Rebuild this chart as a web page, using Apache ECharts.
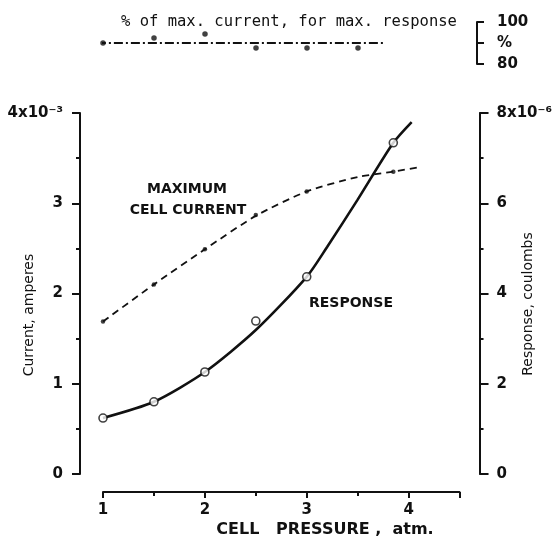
<!DOCTYPE html>
<html>
<head>
<meta charset="utf-8">
<script src="https://cdn.jsdelivr.net/npm/echarts@6/dist/echarts.min.js"></script>
<style>
  html, body { margin: 0; padding: 0; background: #fff; }
  #chart { width: 555px; height: 545px; }
</style>
</head>
<body>
<div id="chart"></div>
<script>
// Measured points vs. cell pressure (atm)
const pressure = [1, 1.5, 2, 2.5, 3, 3.85];
const maxCellCurrent = [1.69, 2.10, 2.49, 2.87, 3.13, 3.35];   // x10^-3 A
const response = [1.24, 1.60, 2.26, 3.39, 4.37, 7.34];         // x10^-6 C

// Hand-drawn smooth curves through the measurements
const currentCurveX = [1, 1.5, 2, 2.5, 3, 3.5, 3.85, 4.1];
const currentCurveY = [1.69, 2.10, 2.49, 2.86, 3.13, 3.29, 3.35, 3.40];
const responseCurveX = [1, 1.5, 2, 2.5, 3, 3.2, 3.5, 3.85, 4.03];
const responseCurveY = [1.24, 1.60, 2.26, 3.19, 4.37, 5.03, 6.08, 7.34, 7.80];

// Upper strip: % of max. current giving max. response
const pctPressure = [1, 1.5, 2, 2.5, 3, 3.5];
const pctOfMax = [90, 92.4, 94.3, 87.6, 87.6, 87.6];
const pctRefX = [0.94, 3.76];
const pctRefY = [90, 90];

// Axis tick labels
const xTicks = [1, 2, 3, 4];
const leftTopLabel = '4x10\u207B\u00B3';
const rightTopLabel = '8x10\u207B\u2076';
const pctLabels = { 80: '80', 90: '%', 100: '100' };

const zip = (a, b) => a.map((v, i) => [v, b[i]]);
const ink = '#111';
const tickFont = { fontFamily: 'DejaVu Sans', fontWeight: 'bold', fontSize: 15, color: ink };
const capsFont = { fontFamily: 'DejaVu Sans', fontWeight: 'bold', fontSize: 14, fill: ink };
const line2 = { color: ink, width: 2 };

const chart = echarts.init(document.getElementById('chart'), null, { renderer: 'canvas' });

chart.setOption({
  backgroundColor: '#fff',
  animation: false,
  title: {
    text: '% of max. current, for max. response',
    left: 116, top: 9,
    textStyle: { fontFamily: 'DejaVu Sans Mono', fontWeight: 'normal', fontSize: 15.5, color: ink }
  },
  grid: [
    { left: 103, right: 95, top: 113, bottom: 71 },
    { left: 103, right: 95, top: 22, height: 42 }
  ],
  xAxis: [
    {
      gridIndex: 0, type: 'value', min: 1, max: 4.5, interval: 1, offset: 18,
      axisLine: { show: true, onZero: false, lineStyle: line2 },
      axisTick: { show: true, length: 6, lineStyle: line2 },
      minorTick: { show: true, splitNumber: 2, length: 4, lineStyle: line2 },
      splitLine: { show: false }, minorSplitLine: { show: false },
      axisLabel: Object.assign({}, tickFont, {
        margin: 11,
        formatter: v => (xTicks.indexOf(v) >= 0 ? String(v) : '')
      })
    },
    { gridIndex: 1, type: 'value', min: 1, max: 4.5, show: false }
  ],
  yAxis: [
    {
      gridIndex: 0, type: 'value', position: 'left', min: 0, max: 4, interval: 1, offset: 23,
      axisLine: { show: true, onZero: false, lineStyle: line2 },
      axisTick: { show: true, length: 8, lineStyle: line2 },
      minorTick: { show: true, splitNumber: 2, length: 4, lineStyle: line2 },
      splitLine: { show: false }, minorSplitLine: { show: false },
      axisLabel: Object.assign({}, tickFont, {
        margin: 17,
        formatter: v => (v === 4 ? leftTopLabel : String(v))
      })
    },
    {
      gridIndex: 0, type: 'value', position: 'right', min: 0, max: 8, interval: 2, offset: 20,
      axisLine: { show: true, onZero: false, lineStyle: line2 },
      axisTick: { show: true, length: 9, lineStyle: line2 },
      minorTick: { show: true, splitNumber: 2, length: 4, lineStyle: line2 },
      splitLine: { show: false }, minorSplitLine: { show: false },
      axisLabel: Object.assign({}, tickFont, {
        margin: 17,
        formatter: v => (v === 8 ? rightTopLabel : String(v))
      })
    },
    {
      gridIndex: 1, type: 'value', position: 'right', min: 80, max: 100, interval: 10, offset: 17,
      axisLine: { show: true, onZero: false, lineStyle: line2 },
      axisTick: { show: true, length: 7, lineStyle: line2 },
      splitLine: { show: false },
      axisLabel: Object.assign({}, tickFont, {
        margin: 20,
        formatter: v => pctLabels[v] || ''
      })
    }
  ],
  series: [
    {
      name: 'Maximum cell current (curve)', type: 'line',
      xAxisIndex: 0, yAxisIndex: 0,
      data: zip(currentCurveX, currentCurveY),
      smooth: 0.25, showSymbol: false,
      lineStyle: { color: ink, width: 1.8, type: [7, 5] }, z: 2
    },
    {
      name: 'Maximum cell current', type: 'scatter',
      xAxisIndex: 0, yAxisIndex: 0,
      data: zip(pressure, maxCellCurrent),
      symbol: 'circle', symbolSize: 4.5,
      itemStyle: { color: ink }, z: 4
    },
    {
      name: 'Response (curve)', type: 'line',
      xAxisIndex: 0, yAxisIndex: 1,
      data: zip(responseCurveX, responseCurveY),
      smooth: 0.25, showSymbol: false,
      lineStyle: { color: ink, width: 2.6 }, z: 2
    },
    {
      name: 'Response', type: 'scatter',
      xAxisIndex: 0, yAxisIndex: 1,
      data: zip(pressure, response),
      symbol: 'circle', symbolSize: 8,
      itemStyle: { color: '#fff', borderColor: ink, borderWidth: 1.6 }, z: 5
    },
    {
      name: '% reference', type: 'line',
      xAxisIndex: 1, yAxisIndex: 2,
      data: zip(pctRefX, pctRefY),
      showSymbol: false,
      lineStyle: { color: ink, width: 1.8, type: [9, 3, 2, 3] }, z: 2
    },
    {
      name: '% of max. current', type: 'scatter',
      xAxisIndex: 1, yAxisIndex: 2,
      data: zip(pctPressure, pctOfMax),
      symbol: 'circle', symbolSize: 5.5,
      itemStyle: { color: ink }, z: 4
    }
  ],
  graphic: [
    { type: 'text', x: 187, y: 189, style: Object.assign({ text: 'MAXIMUM', align: 'center', verticalAlign: 'middle' }, capsFont) },
    { type: 'text', x: 188, y: 210, style: Object.assign({ text: 'CELL CURRENT', align: 'center', verticalAlign: 'middle' }, capsFont) },
    { type: 'text', x: 351, y: 303, style: Object.assign({ text: 'RESPONSE', align: 'center', verticalAlign: 'middle' }, capsFont) },
    {
      type: 'text', x: 325, y: 530,
      style: { text: 'CELL   PRESSURE ,  atm.', align: 'center', verticalAlign: 'middle',
               fontFamily: 'DejaVu Sans', fontWeight: 'bold', fontSize: 16, fill: ink }
    },
    {
      type: 'text', x: 29, y: 315, rotation: Math.PI / 2,
      style: { text: 'Current, amperes', align: 'center', verticalAlign: 'middle',
               fontFamily: 'DejaVu Sans', fontSize: 14, fill: ink }
    },
    {
      type: 'text', x: 528, y: 304, rotation: Math.PI / 2,
      style: { text: 'Response, coulombs', align: 'center', verticalAlign: 'middle',
               fontFamily: 'DejaVu Sans', fontSize: 14, fill: ink }
    }
  ]
});
</script>
</body>
</html>
